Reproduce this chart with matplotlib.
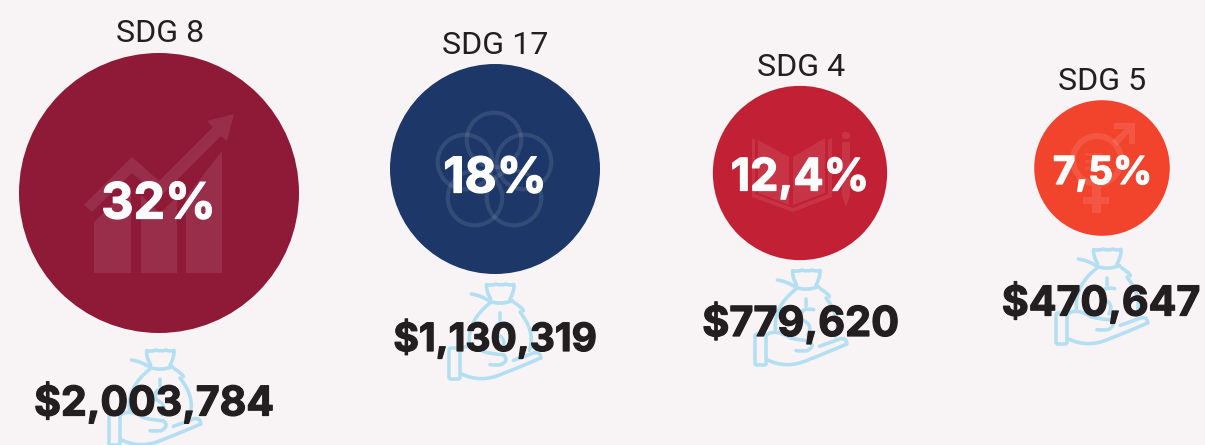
import numpy as np
import matplotlib
matplotlib.use("Agg")
import matplotlib.pyplot as plt
import matplotlib.patheffects as pe
from matplotlib.patches import Circle, Polygon, PathPatch, FancyBboxPatch
from matplotlib.path import Path

labels = ["SDG 8", "SDG 17", "SDG 4", "SDG 5"]
shares = [32, 18, 12.4, 7.5]
share_text = ["32%", "18%", "12,4%", "7,5%"]
amount_text = ["$2,003,784", "$1,130,319", "$779,620", "$470,647"]
colors = ["#8e1a38", "#1c3768", "#c22034", "#f2432c"]
BG = "#f8f4f6"
BAG = "#b4dff2"
INK = "#231f20"
W, H = 1205, 445
NUM_FONT = ["Inter", "DejaVu Sans"]

centers = [(159, 193), (495, 169), (800, 173), (1102, 168)]
label_pos = [(160.5, 33.5), (495, 45.5), (801, 67.5), (1102, 81.5)]
share_pos = [(158.5, 205), (495, 179.5), (800, 178.5), (1102.5, 174)]
share_size = [36, 35.5, 32.3, 27.8]
amount_pos = [(154, 402.5), (495, 338.5), (800.5, 323), (1101, 302.5)]
amount_size = [29.5, 28, 29.8, 29.6]
bag_origin = [(106, 348), (446, 282), (752, 268), (1053, 247)]

fig = plt.figure(figsize=(W / 100, H / 100), dpi=100, facecolor=BG)
ax = fig.add_axes([0, 0, 1, 1])
ax.set_xlim(0, W)
ax.set_ylim(H, 0)
ax.axis("off")


def stroke(pts, origin, color=BAG, lw=2.6, z=2, s=1 / 3):
    pts = np.array(pts, float) * s + origin
    if len(pts) == 2:
        codes = [Path.MOVETO, Path.LINETO]
    elif len(pts) % 2 == 1:
        codes = [Path.MOVETO] + [Path.CURVE3] * (len(pts) - 1)
    else:
        codes = [Path.MOVETO, Path.LINETO] + [Path.CURVE3] * (len(pts) - 2)
    ax.add_patch(PathPatch(Path(pts, codes), fc="none", ec=color, lw=lw,
                           capstyle="round", joinstyle="round", zorder=z))


def money_bag(ox, oy):
    o = np.array([ox, oy], float)
    rel = lambda p: [(a - 100, b - 470) for a, b in p]
    stroke(rel([(222, 478), (238, 482), (250, 476), (265, 482), (280, 476),
                (292, 482), (304, 477), (306, 495), (292, 522)]), o)
    stroke(rel([(222, 478), (220, 498), (234, 520)]), o)
    stroke(rel([(176, 506), (205, 510), (232, 528), (262, 540), (300, 526)]), o)
    stroke(rel([(232, 533), (165, 585), (170, 655)]), o)
    stroke(rel([(305, 532), (330, 548), (332, 556)]), o)
    stroke(rel([(322, 560), (370, 620), (350, 675)]), o)
    stroke(rel([(262, 562), (262, 585)]), o)
    stroke(rel([(285, 595), (240, 585), (250, 625), (285, 640), (268, 670)]), o)
    ax.add_patch(FancyBboxPatch((ox + 3, oy + 66), 11, 31,
                                boxstyle="round,pad=0,rounding_size=2", fc="none", ec=BAG, lw=2.6, zorder=2))
    stroke(rel([(142, 672), (170, 650), (215, 680), (250, 688), (272, 688)]), o)
    stroke(rel([(272, 688), (292, 705), (265, 718), (250, 720), (232, 718)]), o)
    stroke(rel([(145, 745), (205, 775), (270, 745), (330, 722), (384, 698)]), o)
    stroke(rel([(384, 698), (385, 680), (365, 682), (340, 692), (302, 705)]), o)


def shape(points, alpha):
    ax.add_patch(Polygon(points, closed=True, fc=(1, 1, 1, alpha), ec="none", zorder=3))


def icon_growth():
    shape([(94, 222), (131, 187), (131, 273), (94, 273)], 0.09)
    shape([(141, 195), (160, 213), (177, 197), (177, 273), (141, 273)], 0.09)
    shape([(186, 197), (222, 151), (222, 273), (186, 273)], 0.09)
    shape([(84, 205), (92, 212), (132, 173), (160, 197), (221, 136), (227, 141), (234, 114),
           (207, 121), (213, 127), (159, 181), (132, 157)], 0.09)


def icon_rings():
    for cx, cy in [(494, 140), (465, 162), (524, 162), (475, 198), (514, 198)]:
        ax.add_patch(Circle((cx, cy), 27.3, fc="none", ec=(1, 1, 1, 0.10), lw=3, zorder=3))


def icon_book():
    shape([(758, 140), (789, 157), (789, 205), (758, 193)], 0.09)
    shape([(793, 157), (825, 138), (825, 193), (793, 205)], 0.09)
    shape([(752, 138), (752, 197), (793, 212), (832, 197), (832, 138), (828, 140), (828, 194),
           (793, 208), (755, 194), (755, 140)], 0.09)
    ax.add_patch(FancyBboxPatch((842, 132), 8, 7, boxstyle="round,pad=0,rounding_size=3",
                                fc=(1, 1, 1, 0.09), ec="none", zorder=3))
    shape([(842, 142), (850, 142), (850, 196), (846, 207), (842, 196)], 0.09)


def icon_gender():
    ax.add_patch(Circle((1097, 160), 24, fc="none", ec=(1, 1, 1, 0.10), lw=4.4, zorder=3))
    shape([(1114, 123), (1135, 123), (1135, 144), (1129, 144), (1129, 133), (1117, 146),
           (1112, 141), (1125, 129), (1114, 129)], 0.11)
    shape([(1092, 187), (1101, 187), (1101, 197), (1109, 197), (1109, 204), (1101, 204), (1101, 213),
           (1092, 213), (1092, 204), (1083, 204), (1083, 197), (1092, 197)], 0.11)
    for y in (153, 160, 167):
        shape([(1085, y), (1103, y), (1103, y + 3), (1085, y + 3)], 0.08)


for i in range(4):
    money_bag(*bag_origin[i])
    r = 140 * np.sqrt(shares[i] / shares[0])
    ax.add_patch(Circle(centers[i], r, fc=colors[i], ec="none", zorder=2.5))
    ax.text(*label_pos[i], labels[i], ha="center", va="center",
            family="Roboto", fontsize=23.2, color=INK, zorder=5)
    t = ax.text(*share_pos[i], share_text[i], ha="center", va="center",
                family=NUM_FONT, weight="bold", fontsize=share_size[i], color="white", zorder=5)
    t.set_path_effects([pe.withStroke(linewidth=0.9, foreground="white")])
    t = ax.text(*amount_pos[i], amount_text[i], ha="center", va="center",
                family=NUM_FONT, weight="bold", fontsize=amount_size[i], color=INK, zorder=5)
    t.set_path_effects([pe.withStroke(linewidth=0.9, foreground=INK)])

icon_growth()
icon_rings()
icon_book()
icon_gender()

fig.savefig("out.png", dpi=100, facecolor=BG)
